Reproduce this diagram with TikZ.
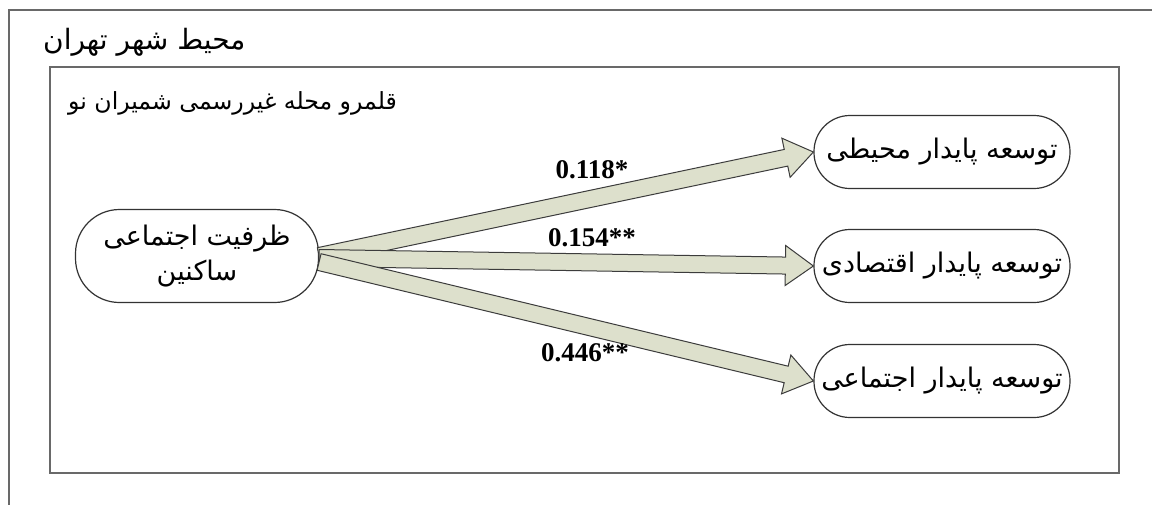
\documentclass[tikz,border=0pt]{standalone}
\usepackage{fontspec}
\usepackage{tikz}
\usetikzlibrary{calc}
\TeXXeTstate=1
\newfontfamily\arabicfont[Script=Arabic]{DejaVu Sans}
\newfontfamily\numfont{Liberation Serif}
\definecolor{arrowfill}{RGB}{221,224,204}
\definecolor{arrowline}{RGB}{60,60,60}
\definecolor{boxline}{RGB}{105,105,105}
\tikzstyle{frame}=[draw=boxline,line width=2pt]
\tikzstyle{title}=[anchor=west,inner sep=0pt,font=\arabicfont\fontsize{28}{30}\selectfont]
\tikzstyle{factor}=[draw=black!80,line width=1.2pt,rounded corners=44pt,minimum width=243pt,minimum height=93pt,align=center,inner sep=0pt,font=\arabicfont\fontsize{27}{35}\selectfont]
\tikzstyle{Rfactor}=[factor,rounded corners=36pt,minimum width=256pt,minimum height=73pt]
\tikzstyle{coef}=[inner sep=0pt,font=\numfont\bfseries\fontsize{27}{30}\selectfont]
\tikzstyle{fat}=[fill=arrowfill,draw=arrowline,line width=1pt,line join=miter]
% block arrow from #1 (tail) to #2 (tip)
\newcommand{\fatarrow}[2]{
  \coordinate (hb) at ($(#2)!28pt!(#1)$);
  \draw[fat] ($(#1)!8.5pt!90:(#2)$) -- ($(hb)!8.5pt!90:(#2)$) -- ($(hb)!20pt!90:(#2)$)
    -- (#2) -- ($(hb)!20pt!-90:(#2)$) -- ($(hb)!8.5pt!-90:(#2)$) -- ($(#1)!8.5pt!-90:(#2)$) -- cycle;
}

\begin{document}
\begin{tikzpicture}[x=1pt,y=-1pt]
    \useasboundingbox (0,0) rectangle (1152,504);
    \fill[white] (0,0) rectangle (1152,504);
    % frames
    \draw[frame] (9,10) rectangle (1170,520);
    \draw[frame] (50,67) rectangle (1119,473);
    \node[title] (city) at (43,42)  {\beginR محیط شهر تهران\endR};
    \node[title,font=\arabicfont\fontsize{23.6}{30}\selectfont] (area) at (68,103) {\beginR قلمرو محله غیررسمی شمیران نو\endR};
    % factors
    \node[factor]  (S)  at (197,256) {\beginR ظرفیت اجتماعی\endR\\ \beginR ساکنین\endR};
    \node[Rfactor] (T1) at (942,152) {\beginR توسعه پایدار محیطی\endR};
    \node[Rfactor] (T2) at (942,266) {\beginR توسعه پایدار اقتصادی\endR};
    \node[Rfactor] (T3) at (942,381) {\beginR توسعه پایدار اجتماعی\endR};
    % paths
    \coordinate (s1) at (S.east);
    \coordinate (s2) at ($(S.east)+(0,2)$);
    \coordinate (s3) at ($(S.east)+(0,6)$);
    \fatarrow{s1}{T1.west}
    \fatarrow{s2}{T2.west}
    \fatarrow{s3}{T3.west}
    \node[coef] (c1) at (592,170) {0.118*};
    \node[coef] (c2) at (592,238) {0.154**};
    \node[coef] (c3) at (585,353) {0.446**};
\end{tikzpicture}
\end{document}
